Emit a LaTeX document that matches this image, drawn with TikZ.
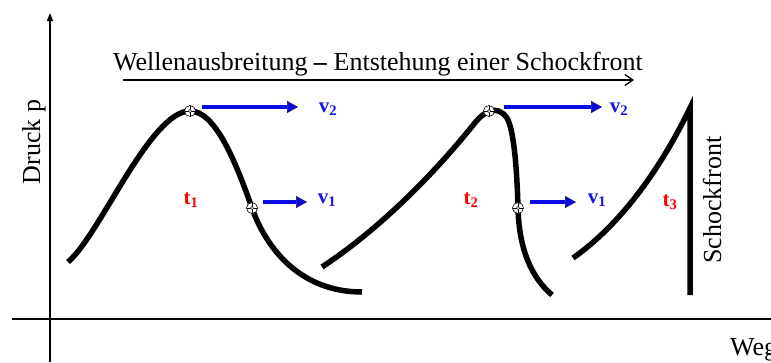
\documentclass[tikz,border=0pt]{standalone}
\usepackage{fontspec}
\setmainfont{Liberation Serif}
\usetikzlibrary{arrows.meta}
\tikzset{
  axis/.style={line width=1.4pt, black},
  wave/.style={line width=5.5pt, black, line cap=butt, line join=miter},
  probe/.style={circle, draw=black, line width=0.6pt, fill=white, minimum size=11pt, inner sep=0pt,
    path picture={\draw[line width=0.6pt] (path picture bounding box.north) -- (path picture bounding box.south)
      (path picture bounding box.west) -- (path picture bounding box.east);
      \draw[line width=0.5pt, fill=white] (path picture bounding box.center) circle (1.6pt);
      \fill (path picture bounding box.center) circle (0.6pt);}},
  varrow/.style={line width=4pt, color={rgb,255:red,10;green,10;blue,230},
    -{Triangle[length=11pt,width=12pt,line width=0.7pt,color={rgb,255:red,20;green,20;blue,110},fill={rgb,255:red,10;green,10;blue,230}]}},
  vlabel/.style={text={rgb,255:red,20;green,20;blue,230}, font=\fontsize{21}{23}\selectfont\bfseries, inner sep=0pt},
  tlabel/.style={text=red, font=\fontsize{21}{23}\selectfont\bfseries, inner sep=0pt},
  bigtext/.style={font=\fontsize{26}{28}\selectfont, inner sep=0pt},
}
\begin{document}
\begin{tikzpicture}[x=1pt,y=-1pt]
\useasboundingbox (0,0) rectangle (771,362);
% axes
\coordinate (yb) at (50,362);
\coordinate (yt) at (50,13);
\coordinate (xl) at (12,319);
\coordinate (xr) at (771,319);
\draw[axis, -{Triangle[length=8pt,width=6pt]}] (yb) -- (yt);
\draw[axis] (xl) -- (xr);
\node[bigtext, rotate=90, anchor=base] (druck) at (40,142) {Druck p};
\node[bigtext, anchor=base west] (weg) at (730,355) {Weg};
% title
\node[bigtext, anchor=base west] (title) at (113,70) {Wellenausbreitung \textbf{--} Entstehung einer Schockfront};
\coordinate (ta) at (123,80);
\coordinate (tb) at (634,80);
\draw[line width=1.7pt, -{Straight Barb[length=8pt,width=11pt,line width=1.3pt]}] (ta) -- (tb);
% waves
\draw[wave] (68,262) .. controls (100,235) and (150,111) .. (190,111)
  .. controls (215,111) and (235,160) .. (252,208)
  .. controls (266,248) and (300,292) .. (362,292);
\draw[wave] (322,267) .. controls (390,222) and (445,160) .. (474,124)
  .. controls (484,111) and (497,104) .. (507,118)
  .. controls (514,130) and (517,170) .. (518,208)
  .. controls (519,250) and (532,278) .. (552,295);
\draw[wave] (573,258) .. controls (620,225) and (660,170) .. (690,108) -- (690,295);
% probes
\node[probe] (p1) at (190,111) {};
\node[probe] (p2) at (252,208) {};
\node[probe] (p3) at (489,111) {};
\node[probe] (p4) at (518,208) {};
% labels
\node[tlabel] (t1) at (191,200) {t\textsubscript{1}};
\node[tlabel] (t2) at (471,200) {t\textsubscript{2}};
\node[tlabel] (t3) at (670,202) {t\textsubscript{3}};
\node[vlabel] (v2a) at (328,109) {v\textsubscript{2}};
\node[vlabel] (v1a) at (327,200) {v\textsubscript{1}};
\node[vlabel] (v2b) at (619,109) {v\textsubscript{2}};
\node[vlabel] (v1b) at (597,200) {v\textsubscript{1}};
\node[bigtext, rotate=90, anchor=base] (schock) at (721,200) {Schockfront};
% velocity arrows
\coordinate (a1s) at (202,107); \coordinate (a1e) at (298,107);
\coordinate (a2s) at (263,202); \coordinate (a2e) at (307,202);
\coordinate (a3s) at (504,107); \coordinate (a3e) at (602,107);
\coordinate (a4s) at (530,202); \coordinate (a4e) at (576,202);
\draw[varrow] (a1s) -- (a1e);
\draw[varrow] (a2s) -- (a2e);
\draw[varrow] (a3s) -- (a3e);
\draw[varrow] (a4s) -- (a4e);
\end{tikzpicture}
\end{document}
